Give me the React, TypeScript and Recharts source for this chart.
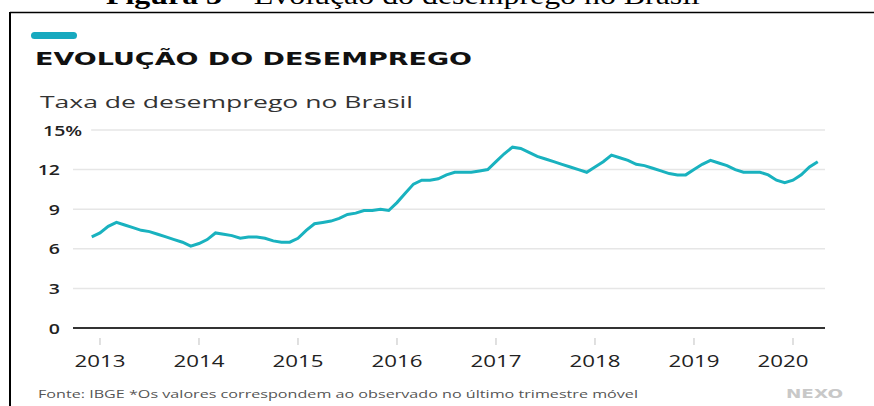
import { CartesianGrid, Line, LineChart, XAxis, YAxis } from "recharts";

// Taxa de desemprego (trimestre móvel), mensal, dez/2012 a abr/2020
const years = ["2013", "2014", "2015", "2016", "2017", "2018", "2019", "2020"];
const rate2012 = [6.9];
const rate2013 = [7.2, 7.7, 8.0, 7.8, 7.6, 7.4, 7.3, 7.1, 6.9, 6.7, 6.5, 6.2];
const rate2014 = [6.4, 6.7, 7.2, 7.1, 7.0, 6.8, 6.9, 6.9, 6.8, 6.6, 6.5, 6.5];
const rate2015 = [6.8, 7.4, 7.9, 8.0, 8.1, 8.3, 8.6, 8.7, 8.9, 8.9, 9.0, 8.9];
const rate2016 = [9.5, 10.2, 10.9, 11.2, 11.2, 11.3, 11.6, 11.8, 11.8, 11.8, 11.9, 12.0];
const rate2017 = [12.6, 13.2, 13.7, 13.6, 13.3, 13.0, 12.8, 12.6, 12.4, 12.2, 12.0, 11.8];
const rate2018 = [12.2, 12.6, 13.1, 12.9, 12.7, 12.4, 12.3, 12.1, 11.9, 11.7, 11.6, 11.6];
const rate2019 = [12.0, 12.4, 12.7, 12.5, 12.3, 12.0, 11.8, 11.8, 11.8, 11.6, 11.2, 11.0];
const rate2020 = [11.2, 11.6, 12.2, 12.6];
const yTicks = [0, 3, 6, 9, 12, 15];

const rates = [
  ...rate2012, ...rate2013, ...rate2014, ...rate2015,
  ...rate2016, ...rate2017, ...rate2018, ...rate2019, ...rate2020,
];
// index 0 = dez/2012, so janeiro of each year sits at 1 + 12k
const data = rates.map((v, i) => ({ i, v }));
const yearTicks = years.map((_, k) => 1 + 12 * k);

const TEAL = "#19b2bf";
const SANS = "'Open Sans', sans-serif";

function YearTick({ x, y, payload }: any) {
  const label = years[Math.round((payload.value - 1) / 12)];
  const dx = label === "2020" ? -10 : 0;
  return (
    <g>
      <line x1={x} x2={x} y1={y + 10} y2={y + 17} stroke="#d6d6d6" strokeWidth={1.5} />
      <text
        x={x + dx}
        y={y + 39}
        textAnchor="middle"
        textLength={51}
        lengthAdjust="spacingAndGlyphs"
        fontFamily={SANS}
        fontWeight={500}
        fontSize={17}
        fill="#222"
      >
        {label}
      </text>
    </g>
  );
}

function ValueTick({ x, y, payload }: any) {
  const top = payload.value === 15;
  return (
    <g transform={`translate(${x},${y}) scale(1.3,1)`}>
      {top && <rect x={0} y={-4} width={24} height={8} fill="#fff" />}
      <text
        x={top ? 17 : 0}
        y={5.5}
        textAnchor="end"
        fontFamily={SANS}
        fontWeight={600}
        fontSize={15}
        fill="#222"
      >
        {top ? "15%" : payload.value}
      </text>
    </g>
  );
}

export default function App() {
  return (
    <div style={{ position: "absolute", left: 0, top: 0, width: 874, height: 406, background: "#fff", overflow: "hidden" }}>
      <svg width={874} height={406} style={{ position: "absolute", left: 0, top: 0 }}>
        <text x={106} y={4} textLength={594} lengthAdjust="spacingAndGlyphs" fontFamily="'Liberation Serif', serif" fontSize={26} fill="#000">
          <tspan fontWeight="bold">Figura 3</tspan> – Evolução do desemprego no Brasil
        </text>
        <line x1={10} x2={874} y1={12.5} y2={12.5} stroke="#000" strokeWidth={1.5} />
        <line x1={10} x2={10} y1={12} y2={406} stroke="#000" strokeWidth={2} />
        <rect x={31} y={32} width={46} height={7} rx={3.5} fill="#17a9bf" />
        <text x={35} y={65} textLength={437} lengthAdjust="spacingAndGlyphs" fontFamily="'DejaVu Sans', sans-serif" fontWeight="bold" fontSize={17.5} fill="#111">
          EVOLUÇÃO DO DESEMPREGO
        </text>
        <text x={40} y={108} textLength={373} lengthAdjust="spacingAndGlyphs" fontFamily={SANS} fontSize={16} fill="#333">
          Taxa de desemprego no Brasil
        </text>
        <text x={38} y={398} textLength={600} lengthAdjust="spacingAndGlyphs" fontFamily={SANS} fontSize={10.5} fill="#555">
          Fonte: IBGE *Os valores correspondem ao observado no último trimestre móvel
        </text>
        <text x={786} y={398} textLength={57} lengthAdjust="spacingAndGlyphs" fontFamily="'DejaVu Sans', sans-serif" fontWeight="bold" fontSize={12} fill="#c8c8c8">
          NEXO
        </text>
      </svg>
      <div style={{ position: "absolute", left: 0, top: 0 }}>
        <LineChart width={874} height={406} data={data} margin={{ top: 130, right: 49, bottom: 18, left: 0 }}>
          <CartesianGrid vertical={false} stroke="#e6e6e6" strokeWidth={1.5} />
          <XAxis
            type="number"
            dataKey="i"
            domain={[-2.27, 88.88]}
            ticks={yearTicks}
            allowDataOverflow
            height={60}
            axisLine={{ stroke: "#333", strokeWidth: 2 }}
            tickLine={false}
            tickSize={0}
            tickMargin={0}
            tick={<YearTick />}
            interval={0}
          />
          <YAxis
            domain={[0, 15]}
            ticks={yTicks}
            width={73}
            axisLine={false}
            tickLine={false}
            tickSize={0}
            tickMargin={13}
            tick={<ValueTick />}
            interval={0}
          />
          <Line
            type="linear"
            dataKey="v"
            stroke={TEAL}
            strokeWidth={3}
            dot={false}
            isAnimationActive={false}
          />
        </LineChart>
      </div>
    </div>
  );
}
